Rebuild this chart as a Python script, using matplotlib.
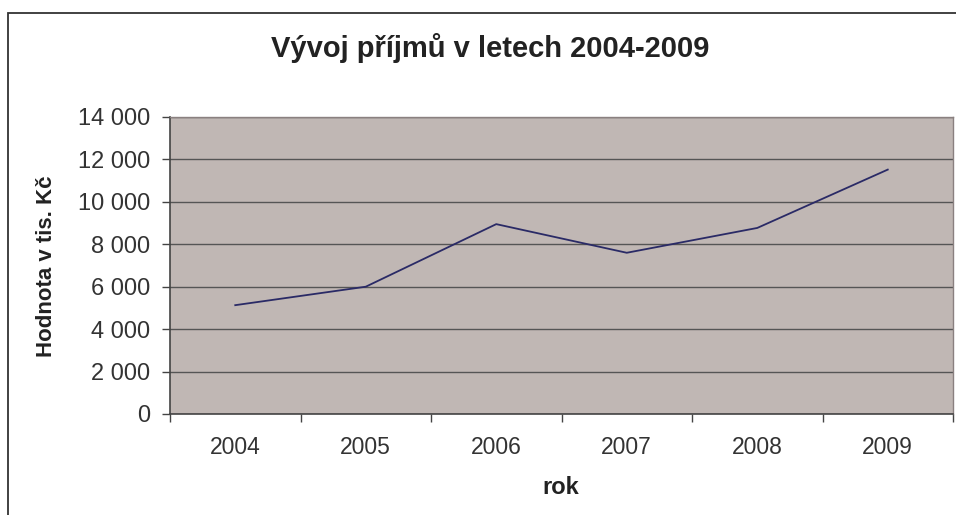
import matplotlib
matplotlib.use("Agg")
import matplotlib.pyplot as plt
from matplotlib.ticker import FuncFormatter, FixedLocator, NullFormatter
from matplotlib.patches import Rectangle

years = ["2004", "2005", "2006", "2007", "2008", "2009"]
values = [5130, 6000, 8950, 7600, 8770, 11520]
title = "Vývoj příjmů v letech 2004-2009"
xlabel = "rok"
ylabel = "Hodnota v tis. Kč"

plt.rcParams['font.family'] = ['Liberation Sans', 'DejaVu Sans']

W, H = 956, 515
fig = plt.figure(figsize=(W / 100, H / 100), dpi=100)
fig.patch.set_facecolor("white")

# outer chart frame (left and top visible)
frame = Rectangle((8 / W, -0.1), 1.2, (H - 13) / H + 0.1, transform=fig.transFigure,
                  fill=False, edgecolor="#333333", linewidth=1.3, zorder=0)
fig.patches.append(frame)

left, right, top, bottom = 170, 953, 117, 414
ax = fig.add_axes([left / W, 1 - bottom / H, (right - left) / W, (bottom - top) / H])
ax.set_facecolor("#c0b7b4")

x = list(range(len(years)))
ax.plot(x, values, color="#2a2a66", linewidth=1.3, zorder=3)

ax.set_xlim(-0.5, len(years) - 0.5)
ax.set_ylim(0, 14000)
ax.set_yticks(range(0, 14001, 2000))
ax.yaxis.set_major_formatter(FuncFormatter(lambda v, p: f"{int(v):,}".replace(",", " ")))
ax.grid(axis="y", color="#555555", linewidth=1.0)
ax.set_axisbelow(True)

ax.set_xticks(x)
ax.set_xticklabels(years)
ax.tick_params(axis="x", which="major", length=0, pad=16, labelsize=16.5, colors="#333333")
ax.xaxis.set_minor_locator(FixedLocator([i - 0.5 for i in range(len(years) + 1)]))
ax.xaxis.set_minor_formatter(NullFormatter())
ax.tick_params(axis="x", which="minor", length=6, color="#444444", width=1)
ax.tick_params(axis="y", length=6, color="#444444", width=1, labelsize=17,
               labelcolor="#333333", pad=8)

for s in ["top", "right"]:
    ax.spines[s].set_color("#8a8080")
    ax.spines[s].set_linewidth(1.0)
for s in ["left", "bottom"]:
    ax.spines[s].set_color("#444444")
    ax.spines[s].set_linewidth(1.2)

fig.text(490 / W, 1 - 48 / H, title, ha="center", va="center",
         fontsize=21, fontweight="bold", color="#222222")
fig.text(561 / W, 1 - 487 / H, xlabel, ha="center", va="center",
         fontsize=17, fontweight="bold", color="#222222")
fig.text(47 / W, 1 - 266 / H, ylabel, ha="center", va="center", rotation=90,
         fontsize=16, fontweight="bold", color="#222222")

fig.savefig("out.png", dpi=100)
